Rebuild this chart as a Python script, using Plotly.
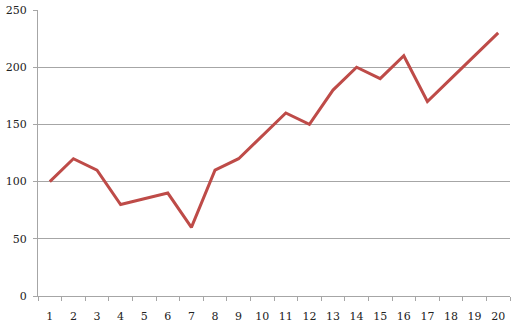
import plotly.graph_objects as go

x_labels = [str(i) for i in range(1, 21)]
values = [100, 120, 110, 80, 85, 90, 60, 110, 120, 140, 160, 150, 180, 200, 190, 210, 170, 190, 210, 230]
y_ticks = [0, 50, 100, 150, 200, 250]

fig = go.Figure()
fig.add_trace(go.Scatter(x=x_labels, y=values, mode="lines",
                         line=dict(color="#BE4B48", width=3)))

font = dict(family="DejaVu Serif", size=11, color="#222222")
fig.update_layout(
    width=520, height=331,
    margin=dict(l=38, r=10, t=10, b=35),
    plot_bgcolor="white", paper_bgcolor="white",
    showlegend=False,
    font=font,
    xaxis=dict(type="category", tickson="boundaries", ticks="outside", ticklen=4,
               range=[-0.5, 19.5], automargin=False,
               tickcolor="#A6A6A6", showline=True, linecolor="#A6A6A6", linewidth=1,
               showgrid=False, tickfont=font, ticklabelstandoff=10),
    yaxis=dict(range=[0, 250], tickvals=y_ticks, ticks="outside", ticklen=4,
               automargin=False,
               tickcolor="#A6A6A6", showline=True, linecolor="#A6A6A6", linewidth=1,
               showgrid=True, gridcolor="#A6A6A6", gridwidth=1, zeroline=False,
               tickfont=font, ticklabelstandoff=4),
)
fig.write_html("out.html")
